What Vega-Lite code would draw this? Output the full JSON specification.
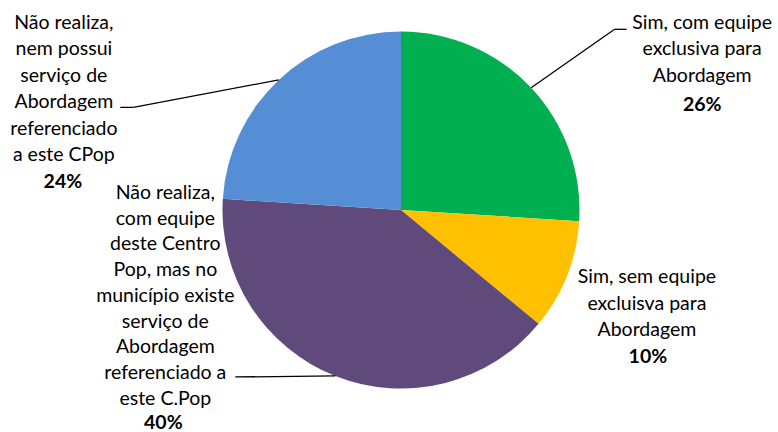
{
  "$schema": "https://vega.github.io/schema/vega-lite/v6.json",
  "width": 754,
  "height": 420,
  "autosize": {"type": "none"},
  "padding": {"left": 24, "top": 0, "right": 0, "bottom": 12},
  "background": "white",
  "config": {"view": {"stroke": null}, "text": {"font": "Lato", "fontSize": 19.5, "lineBreak": "\n", "lineHeight": 26.5, "color": "black"}},
  "data": {"values": [
    {"i": 1, "cat": "Sim, com equipe exclusiva para Abordagem", "label": "Sim, com equipe\nexclusiva para\nAbordagem", "pct": 26},
    {"i": 2, "cat": "Sim, sem equipe excluisva para Abordagem", "label": "Sim, sem equipe\nexcluisva para\nAbordagem", "pct": 10},
    {"i": 3, "cat": "Não realiza, com equipe deste Centro Pop, mas no município existe serviço de Abordagem referenciado a este C.Pop", "label": "Não realiza,\ncom equipe\ndeste Centro\nPop, mas no\nmunicípio existe\nserviço de\nAbordagem\nreferenciado a\neste C.Pop", "pct": 40},
    {"i": 4, "cat": "Não realiza, nem possui serviço de Abordagem referenciado a este CPop", "label": "Não realiza,\nnem possui\nserviço de\nAbordagem\nreferenciado\na este CPop", "pct": 24}
  ]},
  "transform": [
    {"window": [{"op": "sum", "field": "pct", "as": "cum"}], "sort": [{"field": "i"}], "frame": [null, 0]},
    {"calculate": "datum.cum - datum.pct / 2", "as": "mid"},
    {"calculate": "178.5 * sin(datum.mid / 100 * 2 * PI)", "as": "ex"},
    {"calculate": "178.5 * cos(datum.mid / 100 * 2 * PI)", "as": "ey"},
    {"calculate": "datum.pct + '%'", "as": "pctLabel"}
  ],
  "encoding": {
    "x": {"field": "ex", "type": "quantitative", "scale": {"domain": [-377, 377], "nice": false, "zero": false}, "axis": null},
    "y": {"field": "ey", "type": "quantitative", "scale": {"domain": [-210, 210], "nice": false, "zero": false}, "axis": null}
  },
  "layer": [
    {
      "mark": {"type": "arc", "outerRadius": 178.5},
      "encoding": {
        "x": null, "y": null,
        "theta": {"field": "pct", "type": "quantitative", "scale": {"domain": [0, 100]}},
        "order": {"field": "i", "type": "quantitative"},
        "color": {"field": "cat", "type": "nominal", "legend": null,
          "scale": {"domain": ["Sim, com equipe exclusiva para Abordagem", "Sim, sem equipe excluisva para Abordagem", "Não realiza, com equipe deste Centro Pop, mas no município existe serviço de Abordagem referenciado a este C.Pop", "Não realiza, nem possui serviço de Abordagem referenciado a este CPop"],
                    "range": ["#00B050", "#FFC000", "#604A7B", "#558ED5"]}}
      }
    },
    {
      "transform": [{"filter": "datum.i == 1"}],
      "mark": {"type": "rule", "color": "black", "strokeWidth": 1.3, "x2Offset": 83.5, "y2Offset": -58.5},
      "encoding": {"x2": {"field": "ex"}, "y2": {"field": "ey"}}
    },
    {
      "transform": [{"filter": "datum.i == 1"}],
      "mark": {"type": "rule", "color": "black", "strokeWidth": 1.3, "xOffset": 83.5, "yOffset": -58.5, "x2Offset": 95.5, "y2Offset": -58.5},
      "encoding": {"x2": {"field": "ex"}, "y2": {"field": "ey"}}
    },
    {
      "transform": [{"filter": "datum.i == 4"}],
      "mark": {"type": "rule", "color": "black", "strokeWidth": 1.3, "x2Offset": -145.5, "y2Offset": 27.5},
      "encoding": {"x2": {"field": "ex"}, "y2": {"field": "ey"}}
    },
    {
      "transform": [{"filter": "datum.i == 4"}],
      "mark": {"type": "rule", "color": "black", "strokeWidth": 1.3, "xOffset": -145.5, "yOffset": 27.5, "x2Offset": -158.5, "y2Offset": 27.5},
      "encoding": {"x2": {"field": "ex"}, "y2": {"field": "ey"}}
    },
    {
      "transform": [{"filter": "datum.i == 3"}],
      "mark": {"type": "rule", "color": "black", "strokeWidth": 1.3, "x2Offset": -100, "y2Offset": 1},
      "encoding": {"x2": {"field": "ex"}, "y2": {"field": "ey"}}
    },
    {
      "transform": [{"filter": "datum.i == 1"}],
      "mark": {"type": "text", "radius": 265, "dx": 108, "dy": 0, "align": "center", "baseline": "alphabetic"},
      "encoding": {"x": null, "y": null, "theta": {"field": "mid", "type": "quantitative", "stack": null}, "text": {"field": "label"}}
    },
    {
      "transform": [{"filter": "datum.i == 1"}],
      "mark": {"type": "text", "radius": 265, "dx": 108, "dy": 82, "align": "center", "baseline": "alphabetic", "fontWeight": "bold"},
      "encoding": {"x": null, "y": null, "theta": {"field": "mid", "type": "quantitative", "stack": null}, "text": {"field": "pctLabel"}}
    },
    {
      "transform": [{"filter": "datum.i == 2"}],
      "mark": {"type": "text", "radius": 215, "dx": 46, "dy": -6, "align": "center", "baseline": "alphabetic"},
      "encoding": {"x": null, "y": null, "theta": {"field": "mid", "type": "quantitative", "stack": null}, "text": {"field": "label"}}
    },
    {
      "transform": [{"filter": "datum.i == 2"}],
      "mark": {"type": "text", "radius": 215, "dx": 47, "dy": 74, "align": "center", "baseline": "alphabetic", "fontWeight": "bold"},
      "encoding": {"x": null, "y": null, "theta": {"field": "mid", "type": "quantitative", "stack": null}, "text": {"field": "pctLabel"}}
    },
    {
      "transform": [{"filter": "datum.i == 3"}],
      "mark": {"type": "text", "radius": 230, "dx": -151, "dy": -225, "lineHeight": 25.75, "align": "center", "baseline": "alphabetic"},
      "encoding": {"x": null, "y": null, "theta": {"field": "mid", "type": "quantitative", "stack": null}, "text": {"field": "label"}}
    },
    {
      "transform": [{"filter": "datum.i == 3"}],
      "mark": {"type": "text", "radius": 230, "dx": -153, "dy": 5, "align": "center", "baseline": "alphabetic", "fontWeight": "bold"},
      "encoding": {"x": null, "y": null, "theta": {"field": "mid", "type": "quantitative", "stack": null}, "text": {"field": "pctLabel"}}
    },
    {
      "transform": [{"filter": "datum.i == 4"}],
      "mark": {"type": "text", "radius": 250, "dx": -166, "dy": 1, "align": "center", "baseline": "alphabetic"},
      "encoding": {"x": null, "y": null, "theta": {"field": "mid", "type": "quantitative", "stack": null}, "text": {"field": "label"}}
    },
    {
      "transform": [{"filter": "datum.i == 4"}],
      "mark": {"type": "text", "radius": 250, "dx": -167, "dy": 160, "align": "center", "baseline": "alphabetic", "fontWeight": "bold"},
      "encoding": {"x": null, "y": null, "theta": {"field": "mid", "type": "quantitative", "stack": null}, "text": {"field": "pctLabel"}}
    }
  ]
}
